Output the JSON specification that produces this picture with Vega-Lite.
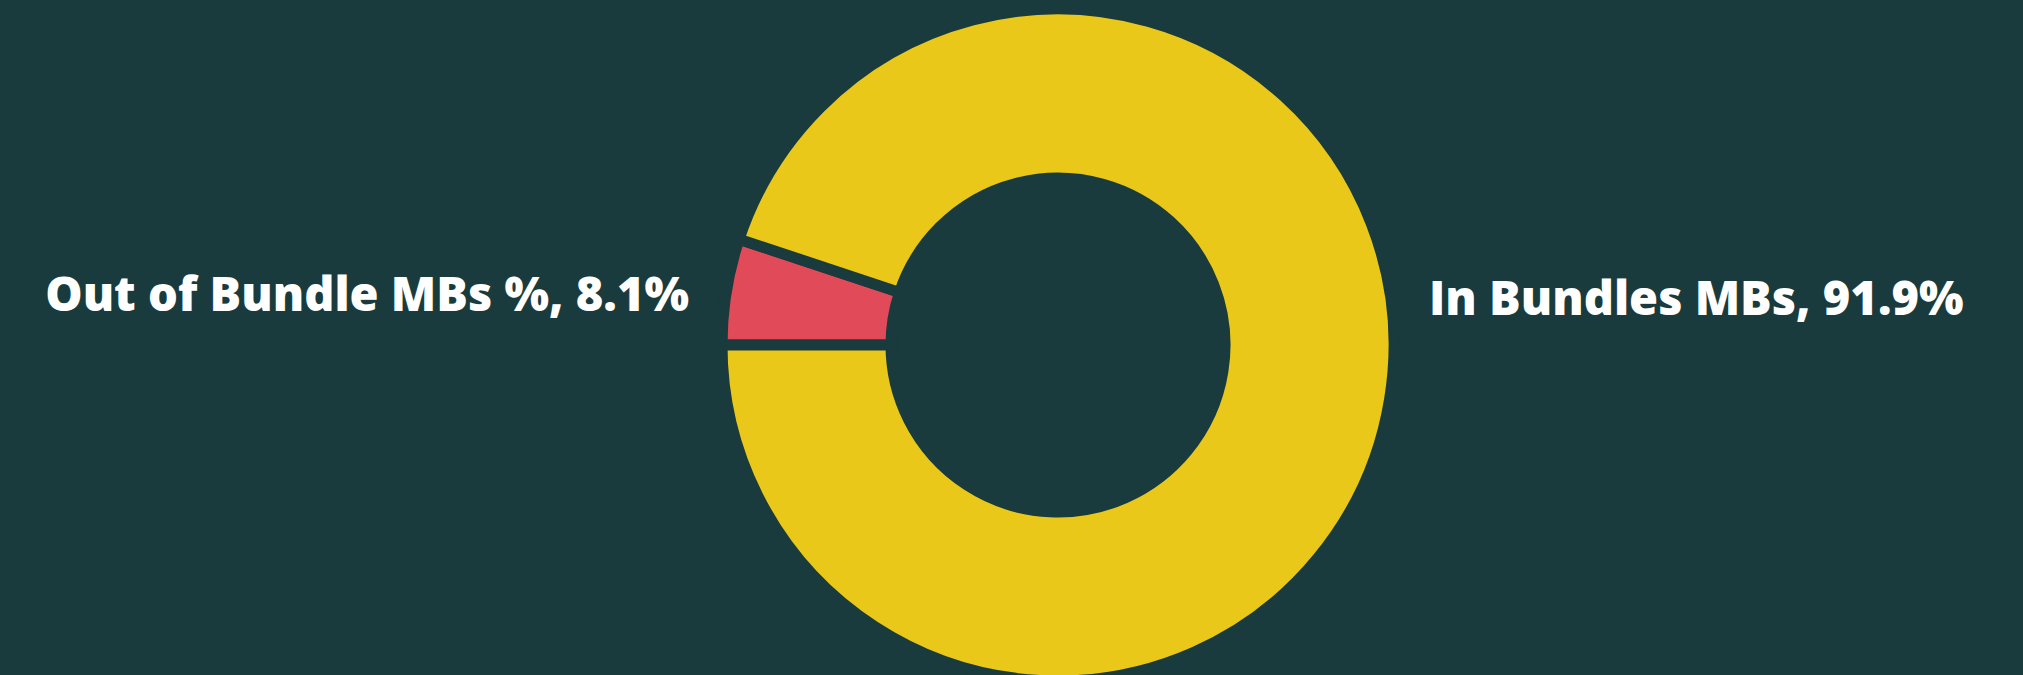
{
  "$schema": "https://vega.github.io/schema/vega-lite/v6.json",
  "width": 2023,
  "height": 675,
  "autosize": {"type": "fit", "contains": "padding"},
  "padding": {"left": 91, "top": 15, "right": 0, "bottom": 0},
  "background": "#1a3b3d",
  "config": {"view": {"stroke": null}},
  "data": {
    "values": [
      {"category": "Out of Bundle MBs %", "share": 5.1, "pct": 8.1, "ord": 1},
      {"category": "In Bundles MBs", "share": 94.9, "pct": 91.9, "ord": 2}
    ]
  },
  "transform": [
    {"calculate": "datum.category + ', ' + format(datum.pct, '.1f') + '%'", "as": "label"}
  ],
  "layer": [
    {
      "mark": {"type": "arc", "outerRadius": 336, "innerRadius": 167, "stroke": "#1a3b3d", "strokeWidth": 11},
      "encoding": {
        "theta": {"field": "share", "type": "quantitative", "stack": true, "scale": {"range": [4.712389, 10.995574]}},
        "order": {"field": "ord", "type": "quantitative"},
        "color": {
          "field": "category",
          "type": "nominal",
          "scale": {"domain": ["Out of Bundle MBs %", "In Bundles MBs"], "range": ["#e04a59", "#e9c81a"]},
          "legend": null
        }
      }
    },
    {
      "transform": [{"filter": "datum.ord == 1"}],
      "mark": {"type": "text", "align": "right", "baseline": "middle", "dx": -369, "dy": -48, "font": "Open Sans", "fontWeight": 800, "fontSize": 47, "color": "#ffffff"},
      "encoding": {"text": {"field": "label", "type": "nominal"}}
    },
    {
      "transform": [{"filter": "datum.ord == 2"}],
      "mark": {"type": "text", "align": "left", "baseline": "middle", "dx": 371, "dy": -44, "font": "Open Sans", "fontWeight": 800, "fontSize": 47, "color": "#ffffff"},
      "encoding": {"text": {"field": "label", "type": "nominal"}}
    }
  ]
}
